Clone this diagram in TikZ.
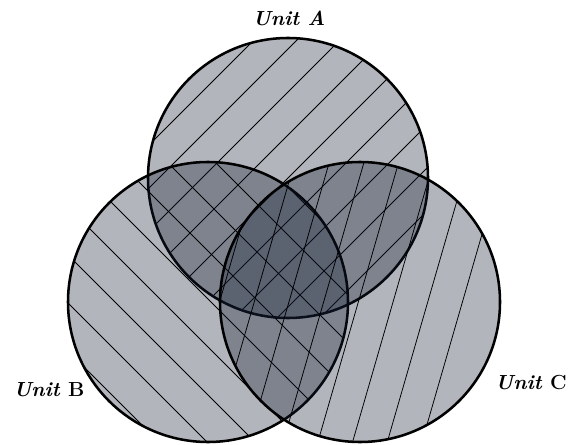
\documentclass[tikz,border=0pt]{standalone}
\definecolor{setgray}{RGB}{20,30,50}
\tikzset{
    setfill/.style={fill=setgray, fill opacity=0.33},
    setedge/.style={draw=black, line width=1.8pt},
    hatchline/.style={black, line width=0.55pt},
    unitlabel/.style={font=\fontsize{14.5}{17}\selectfont\bfseries}
}
\begin{document}
\begin{tikzpicture}[x=0.025cm, y=-0.025cm]
    \useasboundingbox (0,0) rectangle (570,445);

    \coordinate (cA) at (288,178);
    \coordinate (cB) at (208,302);
    \coordinate (cC) at (360,302);

    % Unit A
    \fill[setfill] (cA) circle (140);
    \begin{scope}
        \clip (cA) circle (140);
        \foreach \c in {294,337,...,640}
            \draw[hatchline] (\c,0) -- ({\c-445},445);
    \end{scope}
    \draw[setedge] (cA) circle (140);

    % Unit B
    \fill[setfill] (cB) circle (140);
    \begin{scope}
        \clip (cB) circle (140);
        \foreach \c in {-283,-235,...,110}
            \draw[hatchline] (\c,0) -- ({\c+445},445);
    \end{scope}
    \draw[setedge] (cB) circle (140);

    % Unit C
    \fill[setfill] (cC) circle (140);
    \begin{scope}
        \clip (cC) circle (140);
        \foreach \k in {-4,...,3}
            \draw[hatchline] ({317+34.7*\k},445) -- ({317+34.7*\k+128.6},0);
    \end{scope}
    \draw[setedge] (cC) circle (140);

    \node[unitlabel] (labA) at (289,18) {\textit{Unit A}};
    \node[unitlabel] (labB) at (49,390) {\textit{Unit} B};
    \node[unitlabel] (labC) at (531,383) {\textit{Unit} C};
\end{tikzpicture}
\end{document}
